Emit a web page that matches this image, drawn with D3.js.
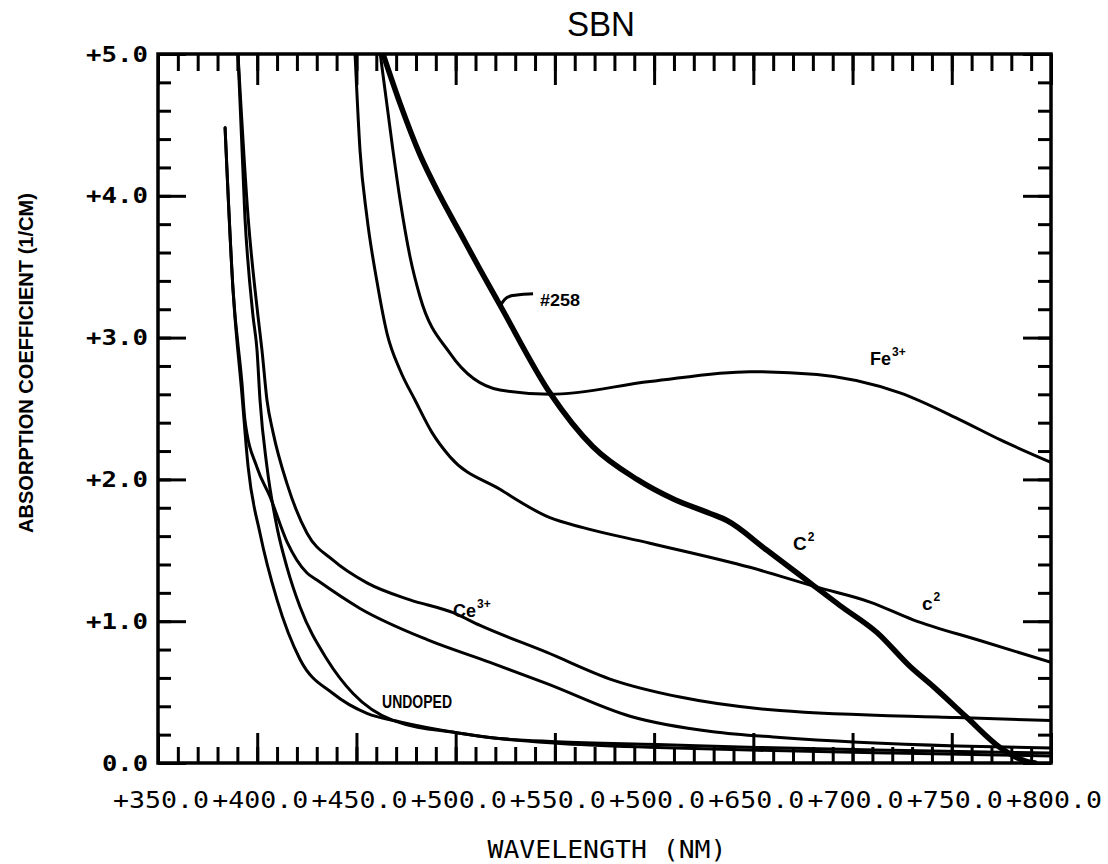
<!DOCTYPE html>
<html><head><meta charset="utf-8">
<script src="https://cdn.jsdelivr.net/npm/d3@7"></script>
<style>body{margin:0;background:#fff;} svg{display:block}</style>
</head><body><svg id="chart" width="1108" height="864"></svg>
<script>
// ---- text ----
const chartTitle = "SBN";
const xAxisTitle = "WAVELENGTH (NM)";
const yAxisTitle = "ABSORPTION COEFFICIENT (1/CM)";

// ---- ticks ----
const xMajorTicks = [350, 400, 450, 500, 550, 600, 650, 700, 750, 800];
const xTickLabels = ["+350.0","+400.0","+450.0","+500.0","+550.0","+500.0","+650.0","+700.0","+750.0","+800.0"];
const xMinorTicks = d3.range(350, 801, 10);
const yMajorTicks = [0, 1, 2, 3, 4, 5];
const yTickLabels = ["0.0","+1.0","+2.0","+3.0","+4.0","+5.0"];
const yMinorTicks = d3.range(0, 5.01, 0.2);

// ---- series: [wavelength nm, absorption 1/cm] ----
const sample258 = [[463.4,5.0],[472,4.65],[482,4.29],[492.1,4.0],[502.2,3.74],[512.3,3.48],[522.3,3.23],[547.5,2.61],[569.2,2.23],[591.4,2.0],[610,1.86],[628.2,1.76],[636.7,1.71],[656.9,1.50],[678.6,1.27],[693.7,1.11],[712.3,0.92],[729,0.68],[740.6,0.54],[757.7,0.32],[774.3,0.11],[788,0.01],[792,0.0]];
const fe3 = [[462,5.0],[468.4,4.32],[472,3.97],[477,3.57],[482,3.29],[497.1,2.89],[522.3,2.63],[547.5,2.60],[597.9,2.69],[648.3,2.76],[682.1,2.74],[723.9,2.61],[754.2,2.42],[774.3,2.28],[800,2.12]];
const c2Thin = [[449.3,5.0],[451.8,4.32],[455.3,3.85],[460.4,3.39],[465.4,3.03],[472,2.77],[479.5,2.56],[488.1,2.33],[497.1,2.16],[522.3,1.93],[547.5,1.73],[564.2,1.66],[597.9,1.55],[648.3,1.38],[682.1,1.24],[708.8,1.135],[730.5,1.01],[765,0.86],[800,0.71]];
const ce3 = [[390.3,5.0],[395.4,3.85],[400.4,3.15],[402.4,2.91],[404.9,2.56],[408,2.33],[415,1.97],[425.1,1.62],[438.2,1.43],[455.3,1.27],[477,1.15],[498.7,1.06],[512.3,0.97],[546,0.78],[579.3,0.585],[613,0.465],[663.4,0.37],[752.6,0.32],[800,0.30]];
const ce3Low = [[383.8,4.48],[387.8,3.34],[392.3,2.68],[393.8,2.42],[400,2.08],[406.4,1.88],[415,1.56],[425.1,1.34],[430.1,1.29],[451.8,1.09],[485.6,0.87],[517.3,0.71],[546,0.56],[587.9,0.33],[629.7,0.22],[663.4,0.18],[752.6,0.12],[800,0.105]];
const undopedA = [[383.8,4.48],[387.8,3.34],[392.3,2.6],[395.4,2.09],[401.4,1.62],[410,1.15],[421.6,0.73],[438.2,0.49],[455.3,0.35],[472,0.29],[502.2,0.21],[517.3,0.18],[551,0.15],[601.5,0.13],[651.9,0.11],[720,0.09],[800,0.07]];
const undopedB = [[390.3,5.0],[393.8,3.85],[397.9,3.15],[399.9,2.91],[401.4,2.56],[404.9,2.09],[410,1.66],[415,1.38],[421.6,1.10],[435.2,0.73],[448.3,0.49],[468.4,0.30],[502,0.21],[517,0.18],[551,0.14],[601.5,0.11],[651.9,0.09],[720,0.07],[800,0.05]];

const seriesList = [
  {name:"#258", data: sample258, width: 5.5},
  {name:"Fe3+", data: fe3, width: 3},
  {name:"C2", data: c2Thin, width: 3},
  {name:"Ce3+", data: ce3, width: 3},
  {name:"Ce3+ b", data: ce3Low, width: 3},
  {name:"UNDOPED a", data: undopedA, width: 3},
  {name:"UNDOPED b", data: undopedB, width: 3}
];

// ---- annotations ----
const labelTexts = ["#258","Fe","C","c","Ce","UNDOPED"];
const labelSups  = ["","3+","2","2","3+",""];
const labelNm    = [542.5, 708.8, 670, 735, 498.7, 462.9];
const labelVal   = [3.22, 2.81, 1.50, 1.08, 1.03, 0.39];
const labelSize  = [17, 18, 19, 19, 18, 18];
const labelLen   = [40, 0, 0, 0, 0, 70];
const leader258 = [[522.3,3.22],[524.5,3.27],[527,3.30],[539,3.31]];

// ---- drawing ----
const svg = d3.select("#chart");
svg.append("rect").attr("width",1108).attr("height",864).attr("fill","#fff");
const x = d3.scaleLinear().domain([350,800]).range([158,1051]);
const y = d3.scaleLinear().domain([0,5]).range([763,54]);
const monoFont = "'DejaVu Sans Mono', monospace";
const labFont = "'Liberation Sans Narrow','Arial Narrow','Liberation Sans',Arial,sans-serif";

svg.append("defs").append("clipPath").attr("id","clip")
  .append("rect").attr("x",158).attr("y",54).attr("width",893).attr("height",709);

function tickAxis(axis, tx, ty){
  const g = svg.append("g").attr("transform",`translate(${tx},${ty})`).call(axis);
  g.select(".domain").remove();
  g.selectAll("text").remove();
  g.selectAll("line").attr("stroke","#000").attr("stroke-width",3);
  return g;
}
tickAxis(d3.axisBottom(x).tickValues(xMinorTicks).tickSizeInner(-16).tickSizeOuter(0), 0, 763);
tickAxis(d3.axisBottom(x).tickValues(xMajorTicks).tickSizeInner(-30).tickSizeOuter(0), 0, 763);
tickAxis(d3.axisTop(x).tickValues(xMinorTicks).tickSizeInner(-17).tickSizeOuter(0), 0, 54);
tickAxis(d3.axisTop(x).tickValues(xMajorTicks).tickSizeInner(-31).tickSizeOuter(0), 0, 54);
tickAxis(d3.axisLeft(y).tickValues(yMinorTicks).tickSizeInner(-13).tickSizeOuter(0), 158, 0);
tickAxis(d3.axisLeft(y).tickValues(yMajorTicks).tickSizeInner(-28).tickSizeOuter(0), 158, 0);
tickAxis(d3.axisRight(y).tickValues(yMinorTicks).tickSizeInner(-13).tickSizeOuter(0), 1051, 0);
tickAxis(d3.axisRight(y).tickValues(yMajorTicks).tickSizeInner(-28).tickSizeOuter(0), 1051, 0);

svg.append("rect").attr("x",158).attr("y",54).attr("width",893).attr("height",709)
  .attr("fill","none").attr("stroke","#000").attr("stroke-width",3.5);

// tick labels
svg.append("g").selectAll("text").data(xMajorTicks).join("text")
  .attr("x", d => x(d) + 3).attr("y", 808)
  .attr("text-anchor","middle").attr("font-family",monoFont).attr("font-size",23)
  .attr("textLength",96).attr("lengthAdjust","spacingAndGlyphs").attr("fill","#000")
  .text((d,i) => xTickLabels[i]);
svg.append("g").selectAll("text").data(yMajorTicks).join("text")
  .attr("x", 148).attr("y", d => y(d)).attr("dy","0.36em")
  .attr("text-anchor","end").attr("font-family",monoFont).attr("font-size",21).attr("font-weight","bold")
  .attr("textLength",(d,i) => yTickLabels[i].length*16 - 2).attr("lengthAdjust","spacingAndGlyphs").attr("fill","#000")
  .text((d,i) => yTickLabels[i]);

// titles
svg.append("text").attr("x",601).attr("y",36).attr("text-anchor","middle")
  .attr("font-family","'Liberation Sans',Arial,sans-serif").attr("font-size",35).attr("fill","#000")
  .attr("textLength",68).attr("lengthAdjust","spacingAndGlyphs").text(chartTitle);
svg.append("text").attr("x",607).attr("y",858).attr("text-anchor","middle")
  .attr("font-family",monoFont).attr("font-size",24).attr("fill","#000")
  .attr("textLength",239).attr("lengthAdjust","spacingAndGlyphs").text(xAxisTitle);
svg.append("text").attr("transform","translate(33,363) rotate(-90)").attr("text-anchor","middle")
  .attr("font-family","'Liberation Sans',Arial,sans-serif").attr("font-size",20).attr("font-weight","bold").attr("fill","#000")
  .attr("textLength",340).attr("lengthAdjust","spacingAndGlyphs").text(yAxisTitle);

// curves
const line = d3.line().x(d => x(d[0])).y(d => y(d[1])).curve(d3.curveMonotoneX);
svg.append("g").attr("clip-path","url(#clip)").selectAll("path").data(seriesList).join("path")
  .attr("d", s => line(s.data)).attr("fill","none").attr("stroke","#000")
  .attr("stroke-width", s => s.width).attr("stroke-linejoin","round").attr("stroke-linecap","round");

// leader for #258
svg.append("path").attr("d", d3.line().x(d => x(d[0])).y(d => y(d[1])).curve(d3.curveBasis)(leader258))
  .attr("fill","none").attr("stroke","#000").attr("stroke-width",3);

// annotations (superscripts as tspans of the same text)
labelTexts.forEach((t,i) => {
  const txt = svg.append("text").attr("x",x(labelNm[i])).attr("y",y(labelVal[i]))
    .attr("font-family",labFont).attr("font-weight","bold").attr("fill","#000")
    .attr("font-size",labelSize[i]);
  if (labelLen[i]) txt.attr("textLength",labelLen[i]).attr("lengthAdjust","spacingAndGlyphs");
  txt.append("tspan").text(t);
  if (labelSups[i]) {
    txt.append("tspan").attr("dx",1).attr("dy",-9).attr("font-size",12).text(labelSups[i]);
  }
});
</script></body></html>
